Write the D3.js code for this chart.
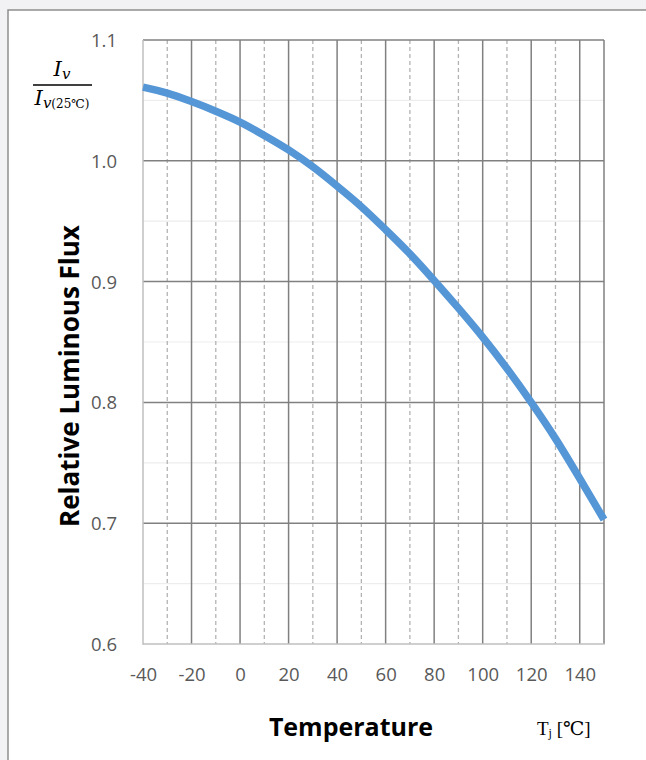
<!DOCTYPE html>
<html><head><meta charset="utf-8">
<script src="https://cdn.jsdelivr.net/npm/d3@7/dist/d3.min.js"></script>
<style>
html,body{margin:0;padding:0;background:#f2f2f4;}
svg{display:block;}
</style></head>
<body>
<svg id="chart" width="646" height="760"></svg>
<script>
const temperatures = [-40,-30,-20,-10,0,10,20,30,40,50,60,70,80,90,100,110,120,130,140,150];
const relativeFlux = [1.061,1.056,1.049,1.041,1.032,1.021,1.009,0.995,0.979,0.962,0.943,0.923,0.901,0.878,0.854,0.828,0.800,0.770,0.737,0.703];
const xTicks = [-40,-20,0,20,40,60,80,100,120,140];
const xMinorTicks = [-30,-10,10,30,50,70,90,110,130];
const yTicks = [0.6,0.7,0.8,0.9,1.0,1.1];
const yMinorTicks = [0.65,0.75,0.85,0.95,1.05];

const svg = d3.select("#chart");
const L = 143, R = 604, T = 40, B = 644;
const x = d3.scaleLinear().domain([-40,150]).range([L,R]);
const y = d3.scaleLinear().domain([0.6,1.1]).range([B,T]);

// panel
svg.append("rect").attr("x",8).attr("y",10).attr("width",700).attr("height",800)
  .attr("fill","#fff").attr("stroke","#8f8f8f").attr("stroke-width",1.5);

const g = svg.append("g");
g.selectAll(".hmin").data(yMinorTicks).join("line")
  .attr("x1",L).attr("x2",R).attr("y1",d=>y(d)).attr("y2",d=>y(d))
  .attr("stroke","#ededed").attr("stroke-width",1.2);
g.selectAll(".vmin").data(xMinorTicks).join("line")
  .attr("x1",d=>x(d)).attr("x2",d=>x(d)).attr("y1",T).attr("y2",B)
  .attr("stroke","#b3b3b3").attr("stroke-width",1.3).attr("stroke-dasharray","4,3");
g.selectAll(".vmaj").data(xTicks.filter(d=>d>-40)).join("line")
  .attr("x1",d=>x(d)).attr("x2",d=>x(d)).attr("y1",T).attr("y2",B)
  .attr("stroke","#808080").attr("stroke-width",1.5);
g.selectAll(".hmaj").data(yTicks.filter(d=>d>0.6)).join("line")
  .attr("x1",L).attr("x2",R).attr("y1",d=>y(d)).attr("y2",d=>y(d))
  .attr("stroke","#808080").attr("stroke-width",1.5);
g.append("line").attr("x1",R).attr("x2",R).attr("y1",T).attr("y2",B)
  .attr("stroke","#808080").attr("stroke-width",1.5);
g.append("line").attr("x1",L).attr("x2",L).attr("y1",T).attr("y2",B+0.75)
  .attr("stroke","#bfbfbf").attr("stroke-width",1.5);
g.append("line").attr("x1",L).attr("x2",R+0.75).attr("y1",B).attr("y2",B)
  .attr("stroke","#bfbfbf").attr("stroke-width",1.5);

const line = d3.line().x((d,i)=>x(temperatures[i])).y(d=>y(d)).curve(d3.curveMonotoneX);
g.append("path").datum(relativeFlux).attr("d",line)
  .attr("fill","none").attr("stroke","#5596d6").attr("stroke-width",7.5);

const font = "'Open Sans', 'Noto Sans', sans-serif";
const xAxis = d3.axisBottom(x).tickValues(xTicks).tickSize(0).tickPadding(0).tickFormat(d=>String(d));
const xa = svg.append("g").attr("transform",`translate(0,${B})`).call(xAxis);
xa.select(".domain").remove();
xa.selectAll("text").attr("dy",null).attr("y",37).attr("fill","#595959")
  .style("font-family",font).style("font-size","18.5px");

const yAxis = d3.axisLeft(y).tickValues(yTicks).tickSize(0).tickPadding(0).tickFormat(d3.format(".1f"));
const ya = svg.append("g").attr("transform",`translate(117,0)`).call(yAxis);
ya.select(".domain").remove();
ya.selectAll("text").attr("dy","0.35em").attr("x",0).attr("fill","#595959")
  .style("font-family",font).style("font-size","18.5px");

svg.append("text").attr("x",351).attr("y",736).attr("text-anchor","middle")
  .style("font-family",font).style("font-weight","bold").style("font-size","25px")
  .attr("fill","#000").text("Temperature");

const tj = svg.append("text").attr("x",537).attr("y",735)
  .style("font-family","'Liberation Serif','DejaVu Serif',serif").style("font-size","19px").attr("fill","#000");
tj.append("tspan").text("T");
tj.append("tspan").attr("dy",2).style("font-size","12px").text("j");
tj.append("tspan").attr("dy",-2).text(" [℃]");

svg.append("text").attr("transform","translate(79,376) rotate(-90)").attr("text-anchor","middle")
  .style("font-family",font).style("font-weight","bold").style("font-size","26px")
  .attr("fill","#000").text("Relative Luminous Flux");

const serif = "'DejaVu Serif','Liberation Serif',serif";
const num = svg.append("text").attr("x",62).attr("y",76).attr("text-anchor","middle")
  .style("font-family",serif).style("font-style","italic").style("font-size","21px");
num.append("tspan").text("I");
num.append("tspan").attr("dy",3).style("font-size","15px").text("v");
svg.append("line").attr("x1",33).attr("x2",92).attr("y1",85).attr("y2",85)
  .attr("stroke","#000").attr("stroke-width",1.4);
const den = svg.append("text").attr("x",62).attr("y",105).attr("text-anchor","middle")
  .style("font-family",serif).style("font-style","italic").style("font-size","21px");
den.append("tspan").text("I");
den.append("tspan").attr("dy",3).style("font-size","15px").text("v");
den.append("tspan").style("font-size","12px").style("font-style","normal").text("(25℃)");
</script>
</body></html>
